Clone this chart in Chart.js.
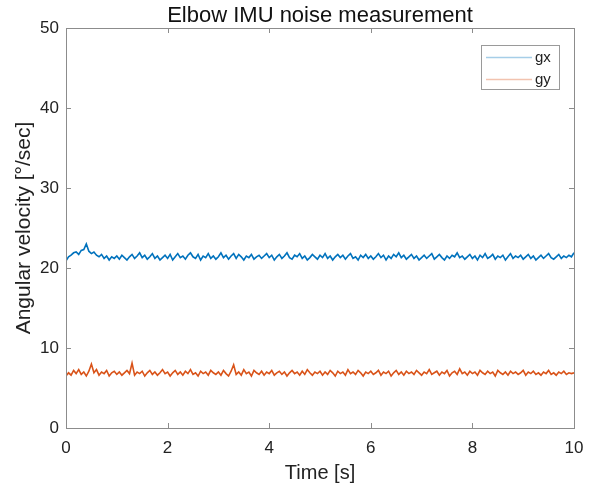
<!DOCTYPE html>
<html>
<head>
<meta charset="utf-8">
<script src="https://cdn.jsdelivr.net/npm/chart.js@4/dist/chart.umd.min.js"></script>
<style>
  body { margin: 0; background: #fff; }
  #wrap { width: 600px; height: 491px; position: relative; }
</style>
</head>
<body>
<div id="wrap"><canvas id="noiseChart"></canvas></div>
<script>
// Gyro readings, one sample every 0.05 s
const gx = [
  20.9, 21.4, 21.6, 21.9, 22.0, 21.7, 22.2, 22.3, 23.0, 22.1, 21.8, 22.0, 21.6, 21.4, 21.7, 21.2, 21.5, 21.0, 21.4, 21.2,
  21.5, 21.1, 21.6, 21.3, 21.0, 21.4, 21.7, 21.2, 21.5, 21.9, 21.3, 21.6, 21.1, 21.4, 21.8, 21.2, 21.5, 21.0, 21.3, 21.6,
  21.2, 21.7, 21.0, 21.4, 21.8, 21.3, 21.5, 21.1, 21.6, 21.9, 21.4, 21.2, 21.7, 21.0, 21.5, 21.3, 21.8, 21.2, 21.5, 21.1,
  21.4, 21.9, 21.3, 21.6, 21.1, 21.5, 21.8, 21.2, 21.7, 21.4, 21.0, 21.5, 21.3, 21.7, 21.1, 21.4, 21.6, 21.2, 21.5, 21.8,
  21.3, 21.6, 21.0, 21.4, 21.7, 21.2, 21.5, 21.9, 21.3, 21.1, 21.6, 21.4, 21.8, 21.2, 21.5, 21.0, 21.3, 21.7, 21.4, 21.1,
  21.6, 21.3, 21.8, 21.2, 21.5, 21.0, 21.4, 21.7, 21.3, 21.6, 21.1, 21.5, 21.8, 21.2, 21.4, 21.0, 21.6, 21.3, 21.7, 21.2,
  21.5, 21.1, 21.4, 21.8, 21.3, 21.6, 21.0, 21.5, 21.2, 21.7, 21.4, 21.9, 21.3, 21.6, 21.1, 21.4, 21.7, 21.2, 21.5, 21.0,
  21.3, 21.6, 21.2, 21.5, 21.8, 21.1, 21.4, 21.7, 21.3, 21.0, 21.5, 21.2, 21.6, 21.4, 21.9, 21.3, 21.5, 21.1, 21.4, 21.7,
  21.2, 21.5, 21.0, 21.6, 21.3, 21.8, 21.2, 21.4, 21.7, 21.1, 21.5, 21.3, 21.6, 21.0, 21.4, 21.8, 21.2, 21.5, 21.3, 21.6,
  21.1, 21.4, 21.7, 21.2, 21.5, 21.0, 21.3, 21.6, 21.2, 21.5, 21.8, 21.3, 21.1, 21.4, 21.7, 21.2, 21.5, 21.3, 21.6, 21.4,
  21.9
];
const gy = [
  6.5, 6.9, 6.6, 7.2, 6.8, 7.3, 6.7, 7.0, 6.5, 7.1, 8.0, 6.9, 7.3, 6.6, 7.0, 6.8, 7.2, 6.5, 6.9, 7.1,
  6.7, 7.0, 6.6, 6.9, 7.2, 6.8, 8.1, 6.6, 7.0, 6.8, 7.1, 6.5, 6.9, 7.2, 6.7, 7.0, 6.6, 6.9, 7.3, 6.8,
  7.0, 6.5, 6.9, 7.2, 6.7, 7.0, 6.6, 7.1, 6.8, 7.3, 6.7, 6.9, 6.5, 7.1, 6.8, 7.0, 6.6, 7.2, 6.9, 6.7,
  7.0, 6.6, 7.2, 6.8, 6.5, 7.1, 7.9, 6.7, 7.0, 6.6, 7.3, 6.8, 7.0, 6.5, 7.2, 6.9, 6.7, 7.1, 6.6, 7.0,
  6.8, 7.2, 6.6, 6.9, 7.1, 6.7, 7.0, 6.5, 6.9, 7.2, 6.8, 7.0, 6.6, 7.1, 6.7, 7.3, 6.9, 6.6, 7.0, 6.8,
  7.1, 6.6, 7.0, 6.7, 7.2, 6.9, 6.5, 7.1, 6.8, 7.0, 6.6, 7.3, 6.8, 7.0, 6.7, 7.2, 6.9, 6.5, 7.0, 6.8,
  7.1, 6.7, 6.9, 7.2, 6.6, 7.0, 6.8, 7.1, 6.5, 6.9, 7.2, 6.7, 7.0, 6.6, 7.1, 6.8, 7.0, 6.7, 7.2, 6.9,
  6.6, 7.0, 6.8, 7.3, 6.7, 6.9, 7.1, 6.6, 7.0, 6.8, 7.2, 6.5, 6.9, 7.1, 6.7, 7.4, 6.8, 7.0, 6.6, 7.1,
  6.8, 7.0, 6.6, 7.2, 6.9, 6.7, 7.1, 6.8, 7.0, 6.5, 7.2, 6.9, 6.7, 7.0, 6.6, 7.1, 6.8, 7.0, 6.7, 6.9,
  7.2, 6.6, 7.0, 6.8, 7.1, 6.7, 6.9, 6.6, 7.0, 6.8, 7.2, 6.7, 6.9, 6.6, 7.0, 6.8, 7.1, 6.7, 6.9, 6.8,
  6.9
];
const seriesNames = ['gx', 'gy'];
const seriesColors = ['#0072BD', '#D95319'];
const legendColors = ['rgba(0,114,189,0.35)', 'rgba(217,83,25,0.35)'];
const xTicks = [0, 2, 4, 6, 8, 10];
const yTicks = [0, 10, 20, 30, 40, 50];
const duration = 10;
const chartTitle = 'Elbow IMU noise measurement';

const FONT = "'Liberation Sans', Arial, sans-serif";
const AXIS_GRAY = '#8c8c8c';

function toPoints(values) {
  const step = duration / (values.length - 1);
  return values.map((v, i) => ({ x: i * step, y: v }));
}

// MATLAB-ish box with inward ticks on all four sides, title over the axes, legend
const boxPlugin = {
  id: 'matlabBox',
  afterDatasetsDraw(chart) {
    const { ctx, chartArea: a, scales } = chart;
    ctx.save();
    ctx.strokeStyle = AXIS_GRAY;
    ctx.lineWidth = 1;
    ctx.beginPath();
    xTicks.forEach(t => {
      const px = Math.round(scales.x.getPixelForValue(t)) + 0.5;
      ctx.moveTo(px, a.bottom); ctx.lineTo(px, a.bottom - 5);
      ctx.moveTo(px, a.top); ctx.lineTo(px, a.top + 5);
    });
    yTicks.forEach(t => {
      const py = Math.round(scales.y.getPixelForValue(t)) + 0.5;
      ctx.moveTo(a.left, py); ctx.lineTo(a.left + 5, py);
      ctx.moveTo(a.right, py); ctx.lineTo(a.right - 5, py);
    });
    ctx.stroke();
    ctx.strokeRect(Math.round(a.left) + 0.5, Math.round(a.top) + 0.5,
      Math.round(a.right - a.left), Math.round(a.bottom - a.top));
    ctx.restore();
  },
  afterDraw(chart) {
    const { ctx, chartArea: a } = chart;
    ctx.save();
    // title centred over the axes like MATLAB does
    ctx.fillStyle = '#111';
    ctx.font = '22px ' + FONT;
    ctx.textAlign = 'center';
    ctx.textBaseline = 'alphabetic';
    ctx.fillText(chartTitle, (a.left + a.right) / 2, a.top - 6);

    // legend box in the top-right corner of the axes
    const bx = a.right - 93, by = a.top + 17, bw = 78, bh = 44;
    ctx.textAlign = 'left';
    ctx.fillStyle = '#fff';
    ctx.fillRect(bx, by, bw, bh);
    ctx.strokeStyle = '#9a9a9a';
    ctx.lineWidth = 1;
    ctx.strokeRect(bx + 0.5, by + 0.5, bw, bh);
    ctx.font = '15px ' + FONT;
    ctx.textBaseline = 'middle';
    chart.data.datasets.forEach((ds, i) => {
      const ly = by + 12 + i * 22;
      ctx.strokeStyle = legendColors[i];
      ctx.lineWidth = 1.5;
      ctx.beginPath();
      ctx.moveTo(bx + 5, ly + 0.5);
      ctx.lineTo(bx + 51, ly + 0.5);
      ctx.stroke();
      ctx.fillStyle = '#222';
      ctx.fillText(ds.label, bx + 54, ly + 1);
    });
    ctx.restore();
  }
};

new Chart(document.getElementById('noiseChart'), {
  type: 'line',
  data: {
    datasets: [
      { label: seriesNames[0], data: toPoints(gx), borderColor: seriesColors[0], borderWidth: 1.6, pointRadius: 0, tension: 0 },
      { label: seriesNames[1], data: toPoints(gy), borderColor: seriesColors[1], borderWidth: 1.6, pointRadius: 0, tension: 0 }
    ]
  },
  options: {
    responsive: true,
    maintainAspectRatio: false,
    animation: false,
    layout: { padding: { left: 0, right: 26, top: 28, bottom: 0 } },
    plugins: {
      legend: { display: false },
      tooltip: { enabled: false },
      title: { display: false }
    },
    scales: {
      x: {
        type: 'linear',
        min: 0, max: 10,
        afterBuildTicks(scale) { scale.ticks = xTicks.map(v => ({ value: v })); },
        afterFit(scale) { scale.height = 63; },
        grid: { display: false, drawTicks: false },
        border: { display: false },
        ticks: { color: '#222', padding: 10, font: { family: FONT, size: 17 }, maxRotation: 0 },
        title: {
          display: true, text: 'Time [s]', color: '#222',
          font: { family: FONT, size: 20 }, padding: { top: 0, bottom: 6 }
        }
      },
      y: {
        min: 0, max: 50,
        afterBuildTicks(scale) { scale.ticks = yTicks.map(v => ({ value: v })); },
        afterFit(scale) { scale.width = 66; },
        grid: { display: false, drawTicks: false },
        border: { display: false },
        ticks: { color: '#222', padding: 7, font: { family: FONT, size: 17 } },
        title: {
          display: true, text: 'Angular velocity [°/sec]', color: '#222',
          font: { family: FONT, size: 21 }, padding: { top: 12, bottom: 0 }
        }
      }
    }
  },
  plugins: [boxPlugin]
});
</script>
</body>
</html>
